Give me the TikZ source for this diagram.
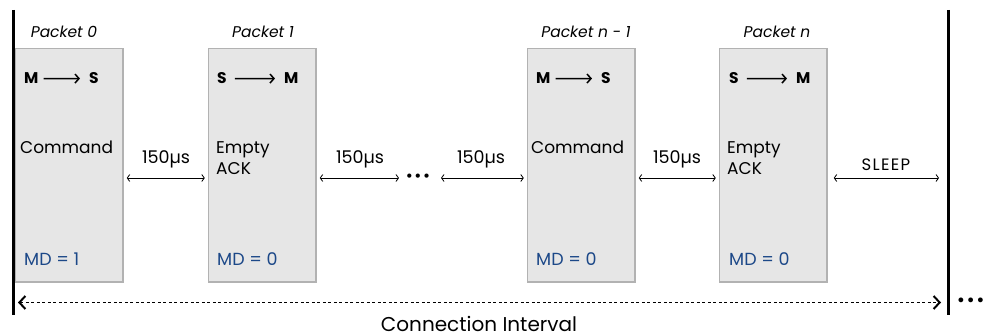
\documentclass[tikz,border=0pt]{standalone}
\usepackage{fontspec}
\setmainfont{Poppins}
\newfontfamily\symfont{DejaVu Sans}
\usetikzlibrary{arrows.meta}
\definecolor{boxfill}{RGB}{230,230,230}
\definecolor{boxline}{RGB}{178,178,178}
\definecolor{mdblue}{RGB}{28,72,136}
\begin{document}
\begin{tikzpicture}[x=1pt,y=-1pt,
  pktbox/.style={draw=boxline, fill=boxfill, line width=1.5pt, minimum width=107.5pt,
    minimum height=233.5pt, anchor=north west, inner sep=0pt},
  pktlabel/.style={font=\fontsize{15.5}{18}\selectfont\itshape, anchor=base, inner sep=0pt},
  dirtxt/.style={font=\fontsize{15.5}{18}\selectfont\bfseries, anchor=base west, inner sep=0pt},
  dirarrow/.style={-{Straight Barb[length=4pt,width=9pt,line width=1.5pt]}, line width=1.5pt},
  bodytxt/.style={font=\fontsize{17}{21}\selectfont, anchor=base west, inner sep=0pt, align=left},
  mdtxt/.style={font=\fontsize{17.5}{20}\selectfont, text=mdblue, anchor=base west, inner sep=0pt},
  gaptxt/.style={font=\fontsize{17.5}{20}\selectfont, anchor=base, inner sep=0pt},
  gap/.style={{Straight Barb[length=2.5pt,width=7pt]}-{Straight Barb[length=2.5pt,width=7pt]}, line width=0.8pt},
  bar/.style={line width=3pt},
  interval/.style={{Straight Barb[length=6pt,width=13pt,line width=2pt]}-{Straight Barb[length=6pt,width=13pt,line width=2pt]},
    line width=1.3pt, dash pattern=on 3pt off 2.5pt},
  dots/.style={font=\symfont\fontsize{14.5}{16}\selectfont, inner sep=0pt}]
\useasboundingbox (0,0) rectangle (987,336);

% packets
\node[pktbox] (b0) at (14.75,47.75) {};
\node[pktbox] (b1) at (207.75,47.75) {};
\node[pktbox] (b2) at (526.75,47.75) {};
\node[pktbox] (b3) at (718.75,47.75) {};

% connection-event boundaries
\coordinate (lt) at (13,10);
\coordinate (lb) at (13,315);
\coordinate (rt) at (948.5,10);
\coordinate (rb) at (948.5,315);
\draw[bar] (lt) -- (lb);
\draw[bar] (rt) -- (rb);

% packet titles
\node[pktlabel] (p0) at (64,37.5) {Packet 0};
\node[pktlabel] (p1) at (263,37.5) {Packet 1};
\node[pktlabel] (p2) at (586,37.5) {Packet n - 1};
\node[pktlabel] (p3) at (777,37.5) {Packet n};

% direction of each packet
\node[dirtxt] (d0a) at (24,84) {M};
\node[dirtxt] (d0b) at (89,84) {S};
\node[dirtxt] (d1a) at (217,84) {S};
\node[dirtxt] (d1b) at (284,84) {M};
\node[dirtxt] (d2a) at (536,84) {M};
\node[dirtxt] (d2b) at (601,84) {S};
\node[dirtxt] (d3a) at (729,84) {S};
\node[dirtxt] (d3b) at (796,84) {M};
\draw[dirarrow] ([xshift=5pt]d0a.east) -- ([xshift=-9pt]d0b.west);
\draw[dirarrow] ([xshift=8pt]d1a.east) -- ([xshift=-9pt]d1b.west);
\draw[dirarrow] ([xshift=5pt]d2a.east) -- ([xshift=-9pt]d2b.west);
\draw[dirarrow] ([xshift=8pt]d3a.east) -- ([xshift=-9pt]d3b.west);

% payloads (multi-line nodes sit on the baseline of their last line)
\node[bodytxt] (c0) at (20,154) {Command};
\node[bodytxt] (c1) at (216,175) {Empty\\ACK};
\node[bodytxt] (c2) at (531,154) {Command};
\node[bodytxt] (c3) at (727,175) {Empty\\ACK};

% more-data flags
\node[mdtxt] (m0) at (24,266) {MD = 1};
\node[mdtxt] (m1) at (217,266) {MD = 0};
\node[mdtxt] (m2) at (536,266) {MD = 0};
\node[mdtxt] (m3) at (729,266) {MD = 0};

% inter-frame spacing
\coordinate (ay) at (0,178);
\node[dots] (ell) at (418,178) {•••};
\draw[gap] ([xshift=3pt]b0.east |- ay) -- ([xshift=-3pt]b1.west |- ay);
\draw[gap] ([xshift=3pt]b1.east |- ay) -- ([xshift=-6pt]ell.west |- ay);
\draw[gap] ([xshift=10pt]ell.east |- ay) -- ([xshift=-3pt]b2.west |- ay);
\draw[gap] ([xshift=3pt]b2.east |- ay) -- ([xshift=-3pt]b3.west |- ay);
\coordinate (se) at (939,178);
\draw[gap] ([xshift=6pt]b3.east |- ay) -- (se);
\node[gaptxt] (t0) at (166,164) {150µs};
\node[gaptxt] (t1) at (360,164) {150µs};
\node[gaptxt] (t2) at (481,164) {150µs};
\node[gaptxt] (t3) at (677,164) {150µs};
\node[gaptxt, font=\fontsize{16.5}{18}\selectfont\addfontfeatures{LetterSpace=8}] (t4) at (886,170.5) {SLEEP};

% connection interval
\coordinate (il) at (18,302.5);
\coordinate (ir) at (941,302.5);
\draw[interval] (il) -- (ir);
\node[font=\fontsize{20}{22}\selectfont, anchor=base, inner sep=0pt] (ci) at (479,331) {Connection Interval};
\node[dots, font=\symfont\fontsize{16.5}{18}\selectfont, anchor=west] (more) at (956,302.5) {•••};
\end{tikzpicture}
\end{document}
